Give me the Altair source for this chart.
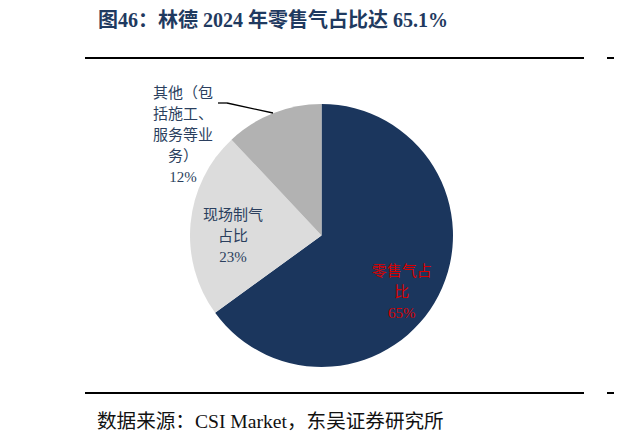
import altair as alt

# ---- data ----
categories = ["零售气占比", "现场制气占比", "其他（包括施工、服务等业务）"]
shares = [65, 23, 12]
label_lines = [
    ["零售气占", "比", "65%"],
    ["现场制气", "占比", "23%"],
    ["其他（包", "括施工、", "服务等业", "务）", "12%"],
]
slice_colors = ["#1B365D", "#DCDCDC", "#B2B2B2"]
label_colors = ["#D80000", "#2B3F5E", "#2B3F5E"]
title_text = "图46：林德 2024 年零售气占比达 65.1%"
source_text = "数据来源：CSI Market，东吴证券研究所"

rows = [
    {"category": c, "share": s, "idx": i, "lines": l}
    for i, (c, s, l) in enumerate(zip(categories, shares, label_lines))
]
data = alt.Data(values=rows)
blank = alt.Data(values=[{"k": 0}])

FONT = "Liberation Serif, Noto Sans CJK SC"
CX, CY, R = 313.5, 227.5, 131.5

theta_scale = alt.Scale(domain=[0, 100])

pie = alt.Chart(data).mark_arc(outerRadius=R).encode(
    theta=alt.Theta("share:Q", stack=True, scale=theta_scale),
    order=alt.Order("idx:Q"),
    color=alt.Color("category:N", scale=alt.Scale(domain=categories, range=slice_colors), legend=None),
    x=alt.value(CX),
    y=alt.value(CY),
)

base_lbl = alt.Chart(data).transform_window(
    cum="sum(share)", sort=[alt.SortField("idx")], frame=[None, 0]
).transform_calculate(mid="datum.cum - datum.share / 2")

# per-label placement: (radius, dx, dy)
placements = [(99, -8, -9), (89, 0, -12), (140, -87, -12)]
labels = []
for i, (r, dx, dy) in enumerate(placements):
    labels.append(
        base_lbl.transform_filter(alt.datum.idx == i).mark_text(
            font=FONT, fontSize=15, lineHeight=21, align="center", baseline="middle",
            color=label_colors[i], dx=dx, dy=dy,
        ).encode(
            theta=alt.Theta("mid:Q", stack=False, scale=theta_scale),
            radius=alt.value(r),
            text=alt.Text("lines:N"),
            x=alt.value(CX),
            y=alt.value(CY),
        )
    )

leader1 = alt.Chart(blank).mark_rule(color="black", strokeWidth=1.3).encode(
    x=alt.value(265), y=alt.value(105), x2=alt.value(219), y2=alt.value(95)
)
leader2 = alt.Chart(blank).mark_rule(color="black", strokeWidth=1.3).encode(
    x=alt.value(219), y=alt.value(95), x2=alt.value(210), y2=alt.value(95)
)

title = alt.Chart(blank).mark_text(
    text=title_text, font=FONT, fontSize=20, fontWeight="bold", color="#1F3A60",
    align="left", baseline="middle",
).encode(x=alt.value(90), y=alt.value(13))

source = alt.Chart(blank).mark_text(
    text=source_text, font=FONT, fontSize=19.6, color="#111111",
    align="left", baseline="middle",
).encode(x=alt.value(89), y=alt.value(414))

rules = []
for y in (50, 385):
    rules.append(alt.Chart(blank).mark_rule(color="black", strokeWidth=2).encode(
        x=alt.value(77), x2=alt.value(576), y=alt.value(y)))
    rules.append(alt.Chart(blank).mark_rule(color="black", strokeWidth=2).encode(
        x=alt.value(599), x2=alt.value(620), y=alt.value(y)))

chart = alt.layer(pie, *labels, leader1, leader2, title, source, *rules).properties(
    width=606, height=430, autosize=alt.AutoSizeParams(type="none"), padding=0,
).configure_view(stroke=None)

chart.save("out.html", embed_options={"renderer": "svg", "actions": False})
